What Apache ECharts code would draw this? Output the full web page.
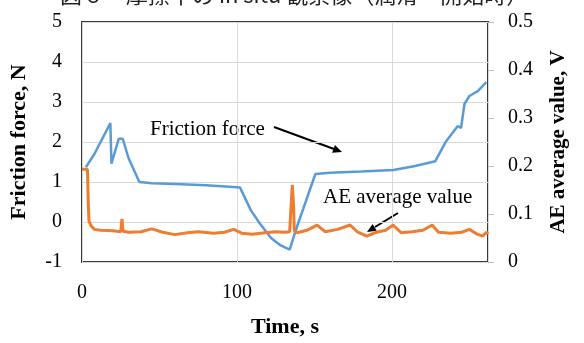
<!DOCTYPE html>
<html><head><meta charset="utf-8">
<script src="https://cdn.jsdelivr.net/npm/echarts@6/dist/echarts.min.js"></script>
<style>html,body{margin:0;padding:0;background:#fff}#c{width:584px;height:343px}</style>
</head><body><div id="c"></div>
<script>
// Friction force (N), left axis: [time s, value]
const frictionForce = [[2.5,1.37],[8,1.7],[18.3,2.47],[19,1.46],[23.7,2.08],[26.3,2.08],[30,1.6],[37,1.0],[45,0.97],[60,0.95],[80,0.92],[100,0.87],[101,0.92],[102,0.86],[109,0.29],[115,-0.05],[122,-0.4],[128,-0.58],[134,-0.69],[138,-0.2],[150.6,1.2],[160,1.23],[180,1.26],[201,1.3],[215,1.4],[228,1.52],[235,2.02],[242.5,2.4],[244.6,2.35],[246.8,2.95],[250,3.15],[255.4,3.27],[261,3.5]];
// AE average value (V), right axis: [time s, value]
const aeAverage = [[0,0.193],[3.5,0.193],[4,0.13],[4.5,0.085],[6,0.075],[8,0.068],[12,0.066],[20,0.065],[25,0.063],[25.8,0.09],[26.5,0.064],[30,0.062],[38,0.063],[45,0.069],[52,0.062],[60,0.057],[68,0.061],[75,0.063],[85,0.06],[92,0.062],[98,0.068],[103,0.06],[110,0.058],[118,0.061],[125,0.063],[131,0.062],[134,0.063],[135,0.12],[135.7,0.161],[136.5,0.12],[137,0.065],[139,0.061],[145,0.066],[151.7,0.077],[157,0.063],[165,0.068],[173,0.077],[178,0.062],[183.7,0.054],[190,0.062],[196,0.066],[200.8,0.077],[206,0.061],[213,0.063],[220,0.066],[226,0.077],[230,0.062],[238,0.06],[245,0.062],[250,0.068],[255,0.058],[258.5,0.054],[261,0.062],[262,0.058]];
const xTicks = {min:0, max:262, interval:100};
const leftTicks = {min:-1, max:5, interval:1};
const rightTicks = {min:0, max:0.5, interval:0.1};

const serif = '"Liberation Serif","Times New Roman",serif';
const chart = echarts.init(document.getElementById('c'), null, {renderer:'canvas'});
chart.setOption({
  animation:false,
  grid:{left:80,right:96,top:22,bottom:73,show:true,borderColor:'#3a3a3a',borderWidth:2,backgroundColor:'transparent'},
  xAxis:{type:'value',min:xTicks.min,max:xTicks.max,interval:xTicks.interval,
    name:'Time, s',nameLocation:'middle',nameGap:54,
    nameTextStyle:{fontFamily:serif,fontWeight:'bold',fontSize:22,color:'#000'},
    axisLine:{show:false},axisTick:{show:false},
    axisLabel:{fontFamily:serif,fontSize:20,color:'#000',margin:21,showMaxLabel:false},
    splitLine:{show:true,lineStyle:{color:'#d9d9d9',width:1}}},
  yAxis:[
    {type:'value',min:leftTicks.min,max:leftTicks.max,interval:leftTicks.interval,
     name:'Friction force, N',nameLocation:'middle',nameGap:52,
     nameTextStyle:{fontFamily:serif,fontWeight:'bold',fontSize:22,color:'#000'},
     axisLine:{show:false},axisTick:{show:false},
     axisLabel:{fontFamily:serif,fontSize:20,color:'#000',margin:20},
     splitLine:{show:true,lineStyle:{color:'#d9d9d9',width:1}}},
    {type:'value',min:rightTicks.min,max:rightTicks.max,interval:rightTicks.interval,position:'right',
     name:'AE average value, V',nameLocation:'middle',nameGap:60,nameRotate:90,
     nameTextStyle:{fontFamily:serif,fontWeight:'bold',fontSize:21,color:'#000'},
     axisLine:{show:false},axisTick:{show:true,length:6,lineStyle:{color:'#bfbfbf'}},
     axisLabel:{fontFamily:serif,fontSize:20,color:'#000',margin:20},
     splitLine:{show:false}}
  ],
  series:[
    {type:'line',name:'Friction force',yAxisIndex:0,data:frictionForce,showSymbol:false,
     lineStyle:{color:'#5B9BD5',width:2.5},itemStyle:{color:'#5B9BD5'}},
    {type:'line',name:'AE average value',yAxisIndex:1,data:aeAverage,showSymbol:false,
     lineStyle:{color:'#ED7D31',width:3},itemStyle:{color:'#ED7D31'}}
  ],
  graphic:[
    {type:'text',left:60,top:-16,style:{text:'図６　摩擦中の in situ 観察像（潤滑・開始時）',font:'22px "Noto Sans CJK JP"',fill:'#222'}},
    {type:'text',x:150,y:129,style:{text:'Friction force',font:'21px '+serif,fill:'#000',textVerticalAlign:'middle'}},
    {type:'text',x:323,y:197,style:{text:'AE average value',font:'21px '+serif,fill:'#000',textVerticalAlign:'middle'}},
    {type:'line',shape:{x1:274,y1:127,x2:334,y2:149},style:{stroke:'#000',lineWidth:2}},
    {type:'polygon',shape:{points:[[342,152],[332.1,152.7],[334.9,145.1]]},style:{fill:'#000'}},
    {type:'line',shape:{x1:398,y1:213,x2:375,y2:227},style:{stroke:'#000',lineWidth:2}},
    {type:'polygon',shape:{points:[[367,232],[372.6,223.9],[376.8,230.7]]},style:{fill:'#000'}}
  ]
});
</script></body></html>
